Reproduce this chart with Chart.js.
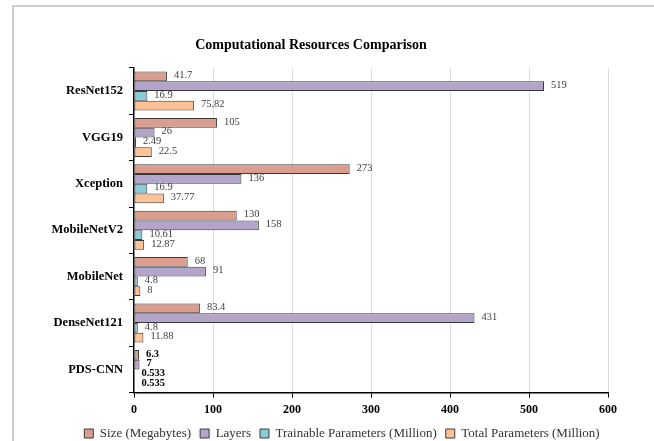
<!DOCTYPE html>
<html>
<head>
<meta charset="utf-8">
<script src="https://cdn.jsdelivr.net/npm/chart.js@4/dist/chart.umd.min.js"></script>
<style>
  html, body { margin: 0; padding: 0; background: #fff; }
  #wrap { position: relative; width: 654px; height: 441px; overflow: hidden; }
  #frame {
    position: absolute; left: 12px; top: 5px; width: 700px; height: 500px;
    border-top: 2px solid #cfcfcf; border-left: 2px solid #cfcfcf;
  }
  canvas { position: absolute; left: 0; top: 0; }
</style>
</head>
<body>
<div id="wrap">
  <div id="frame"></div>
  <canvas id="chart" width="654" height="441"></canvas>
</div>
<script>
const models = ['ResNet152', 'VGG19', 'Xception', 'MobileNetV2', 'MobileNet', 'DenseNet121', 'PDS-CNN'];
const sizeMb = [41.7, 105, 273, 130, 68, 83.4, 6.3];
const layers = [519, 26, 136, 158, 91, 431, 7];
const trainableParams = [16.9, 2.49, 16.9, 10.61, 4.8, 4.8, 0.533];
const totalParams = [75.82, 22.5, 37.77, 12.87, 8, 11.88, 0.535];
const xTicks = [0, 100, 200, 300, 400, 500, 600];

const serif = "'Liberation Serif', 'Times New Roman', serif";
const ours = 'PDS-CNN';

// value labels at the end of each bar, bold for our own model
const barValues = {
  id: 'barValues',
  afterDatasetsDraw(chart) {
    const ctx = chart.ctx;
    ctx.save();
    ctx.textBaseline = 'middle';
    ctx.textAlign = 'left';
    chart.data.datasets.forEach((ds, i) => {
      const meta = chart.getDatasetMeta(i);
      meta.data.forEach((bar, j) => {
        const mine = chart.data.labels[j] === ours;
        ctx.font = `${mine ? 'bold ' : ''}10.5px ${serif}`;
        ctx.fillStyle = mine ? '#000' : '#404040';
        ctx.fillText(String(ds.data[j]), bar.x + 7, bar.y - 1);
      });
    });
    ctx.restore();
  },
};

// nudge the legend row right and up so it sits under the middle of the page
const legendShift = {
  id: 'legendShift',
  afterLayout(chart) {
    const lg = chart.legend;
    lg.left += 31;
    lg.right += 31;
    lg.top -= 4;
    lg.bottom -= 4;
  },
};

const series = [
  { label: 'Size (Megabytes)', data: sizeMb, color: '#DB9D8D' },
  { label: 'Layers', data: layers, color: '#B3A4CA' },
  { label: 'Trainable Parameters (Million)', data: trainableParams, color: '#8ACBDA' },
  { label: 'Total Parameters (Million)', data: totalParams, color: '#FCC296' },
];

new Chart(document.querySelector('#chart'), {
  type: 'bar',
  data: {
    labels: models,
    datasets: series.map(s => ({
      label: s.label,
      data: s.data,
      backgroundColor: s.color,
      borderColor: '#3a3a3a',
      borderWidth: 1,
      borderSkipped: false,
      barPercentage: 1,
      categoryPercentage: 0.84,
    })),
  },
  plugins: [barValues, legendShift],
  options: {
    indexAxis: 'y',
    responsive: false,
    animation: false,
    devicePixelRatio: 1,
    layout: { padding: { left: 14, right: 46, top: 0, bottom: -13 } },
    plugins: {
      title: {
        display: true,
        text: 'Computational Resources Comparison',
        color: '#000',
        font: { family: serif, size: 14, weight: 'bold' },
        padding: { top: 37, bottom: 14 },
      },
      legend: {
        position: 'bottom',
        labels: {
          color: '#333',
          font: { family: serif, size: 13 },
          boxWidth: 9,
          boxHeight: 9,
          padding: 9,
        },
      },
      tooltip: { enabled: false },
    },
    scales: {
      x: {
        min: 0,
        max: 600,
        afterBuildTicks: scale => { scale.ticks = xTicks.map(v => ({ value: v })); },
        grid: {
          color: ctx => (ctx.tick && ctx.tick.value === 0 ? 'rgba(0,0,0,0)' : '#dcdcdc'),
          tickColor: '#000',
          tickLength: 5,
          lineWidth: 1,
        },
        border: { color: '#000', width: 1.5 },
        ticks: {
          color: '#000',
          padding: 5,
          font: { family: serif, size: 12, weight: 'bold' },
        },
      },
      y: {
        afterFit: scale => { scale.width = 120; },
        grid: {
          drawOnChartArea: false,
          tickColor: '#000',
          tickLength: 5,
          offset: true,
        },
        border: { color: '#000', width: 1.5 },
        ticks: {
          color: '#000',
          padding: 6,
          font: { family: serif, size: 12.5, weight: 'bold' },
        },
      },
    },
  },
});
</script>
</body>
</html>
